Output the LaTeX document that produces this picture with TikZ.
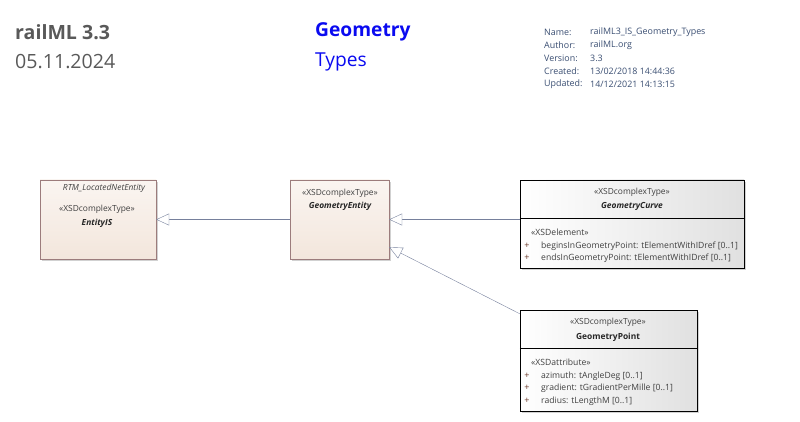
\documentclass[tikz,border=0pt]{standalone}
\usepackage{fontspec}
\setmainfont{Open Sans}
\usepackage{tikz}
\usetikzlibrary{arrows.meta,positioning,shadows}

\definecolor{headgrey}{HTML}{595959}
\definecolor{headblue}{HTML}{0A0AF0}
\definecolor{metablue}{HTML}{3A4E72}
\definecolor{creamfill}{HTML}{F3E6DC}
\definecolor{creamline}{HTML}{9C7C7C}
\definecolor{linkline}{HTML}{76809C}
\definecolor{itemgrey}{HTML}{404040}
\definecolor{plusbrown}{HTML}{6A3A2A}

\begin{document}
\begin{tikzpicture}
		[
			x=1pt, y=-1pt,
			basebox/.style={draw=creamline, rectangle, inner sep=0pt,
				top color=white!60!creamfill, bottom color=creamfill,
				drop shadow={shadow xshift=2pt, shadow yshift=-2pt, fill=black!18, opacity=1}},
			classbox/.style={draw=black, rectangle, inner sep=0pt,
				left color=white, right color=black!12,
				drop shadow={shadow xshift=2pt, shadow yshift=-2pt, fill=black!18, opacity=1}},
			stereo/.style={font=\fontsize{8.4}{9}\selectfont, text=itemgrey, inner sep=0pt},
			cname/.style={font=\fontsize{8.4}{9}\selectfont\bfseries\itshape, text=black!85, inner sep=0pt},
			item/.style={font=\fontsize{8.6}{9}\selectfont, text=itemgrey, inner sep=0pt, anchor=west},
			plus/.style={font=\fontsize{9}{9}\selectfont, text=plusbrown, inner sep=0pt},
			meta/.style={font=\fontsize{8.9}{9}\selectfont, text=metablue, inner sep=0pt, anchor=west},
			gen/.style={draw=linkline, -{Triangle[open, length=13pt, width=12pt, fill=white]}}
		]
		\useasboundingbox (0,0) rectangle (800,422);

		% header
		\node[font=\fontsize{19.6}{22}\selectfont\bfseries, text=headgrey, anchor=west, inner sep=0pt] (title) at (15,32) {railML 3.3};
		\node[font=\fontsize{19.6}{22}\selectfont, text=headgrey, anchor=west, inner sep=0pt] (date) at (15,62) {05.11.2024};
		\node[font=\fontsize{19.2}{22}\selectfont\bfseries, text=headblue, anchor=west, inner sep=0pt] (pkg) at (315,32) {Geometry};
		\node[font=\fontsize{19.2}{22}\selectfont, text=headblue, anchor=west, inner sep=0pt] (pkgsub) at (315,62) {Types};

		% diagram properties
		\node[meta] (nameK)    at (544,32) {Name:};
		\node[meta] (authorK)  at (544,45) {Author:};
		\node[meta] (versK)    at (544,58) {Version:};
		\node[meta] (createdK) at (544,71) {Created:};
		\node[meta] (updK)     at (544,84) {Updated:};
		\node[meta] (nameV)    at (590,32) {railML3\_IS\_Geometry\_Types};
		\node[meta] (authorV)  at (590,45) {railML.org};
		\node[meta] (versV)    at (590,58) {3.3};
		\node[meta] (createdV) at (590,71) {13/02/2018 14:44:36};
		\node[meta] (updV)     at (590,84) {14/12/2021 14:13:15};

		% classes
		\node[basebox, minimum width=116pt, minimum height=79pt]  (EntityIS)       at (98,219.5)  {};
		\node[basebox, minimum width=99pt, minimum height=79pt]   (GeometryEntity) at (339.5,219.5) {};
		\node[classbox, minimum width=224pt, minimum height=88pt] (GeometryCurve)  at (632,224)   {};
		\node[classbox, minimum width=177pt, minimum height=101pt] (GeometryPoint) at (608.5,360.5) {};

		% class texts
		\node[stereo, font=\fontsize{8.4}{9}\selectfont\itshape] (EntityISparent) at (104,188) {RTM\_LocatedNetEntity};
		\node[stereo] (EntityISst)  at (97,209) {«XSDcomplexType»};
		\node[cname]  (EntityISnm)  at (97,223) {EntityIS};
		\node[stereo] (GeomEntst)   at (340,193) {«XSDcomplexType»};
		\node[cname]  (GeomEntnm)   at (340,206) {GeometryEntity};
		\node[stereo] (GeomCurvst)  at (632,192) {«XSDcomplexType»};
		\node[cname]  (GeomCurvnm)  at (632,206) {GeometryCurve};
		\node[stereo] (GeomPtst)    at (608,322) {«XSDcomplexType»};
		\node[cname, font=\fontsize{8.4}{9}\selectfont\bfseries] (GeomPtnm) at (608,337) {GeometryPoint};

		% compartments
		\draw ([yshift=-38pt]GeometryCurve.north west) -- ([yshift=-38pt]GeometryCurve.north east);
		\draw ([yshift=-38pt]GeometryPoint.north west) -- ([yshift=-38pt]GeometryPoint.north east);

		\node[item] (CurveEl)   at (531,232) {«XSDelement»};
		\node[plus] (CurveP1)   at (527,246) {+};
		\node[item] (CurveA1)   at (541,246) {beginsInGeometryPoint: tElementWithIDref [0..1]};
		\node[plus] (CurveP2)   at (527,258) {+};
		\node[item] (CurveA2)   at (541,258) {endsInGeometryPoint: tElementWithIDref [0..1]};

		\node[item] (PointAt)   at (531,362) {«XSDattribute»};
		\node[plus] (PointP1)   at (527,376) {+};
		\node[item] (PointA1)   at (541,376) {azimuth: tAngleDeg [0..1]};
		\node[plus] (PointP2)   at (527,388) {+};
		\node[item] (PointA2)   at (541,388) {gradient: tGradientPerMille [0..1]};
		\node[plus] (PointP3)   at (527,401) {+};
		\node[item] (PointA3)   at (541,401) {radius: tLengthM [0..1]};

		% generalisations
		\draw[gen] (GeometryEntity.west) -- (EntityIS.east);
		\draw[gen] (GeometryCurve.west |- GeometryEntity.east) -- (GeometryEntity.east);
		\draw[gen] ([yshift=-4pt]GeometryPoint.north west) -- ([yshift=12pt]GeometryEntity.south east);

	\end{tikzpicture}
\end{document}
